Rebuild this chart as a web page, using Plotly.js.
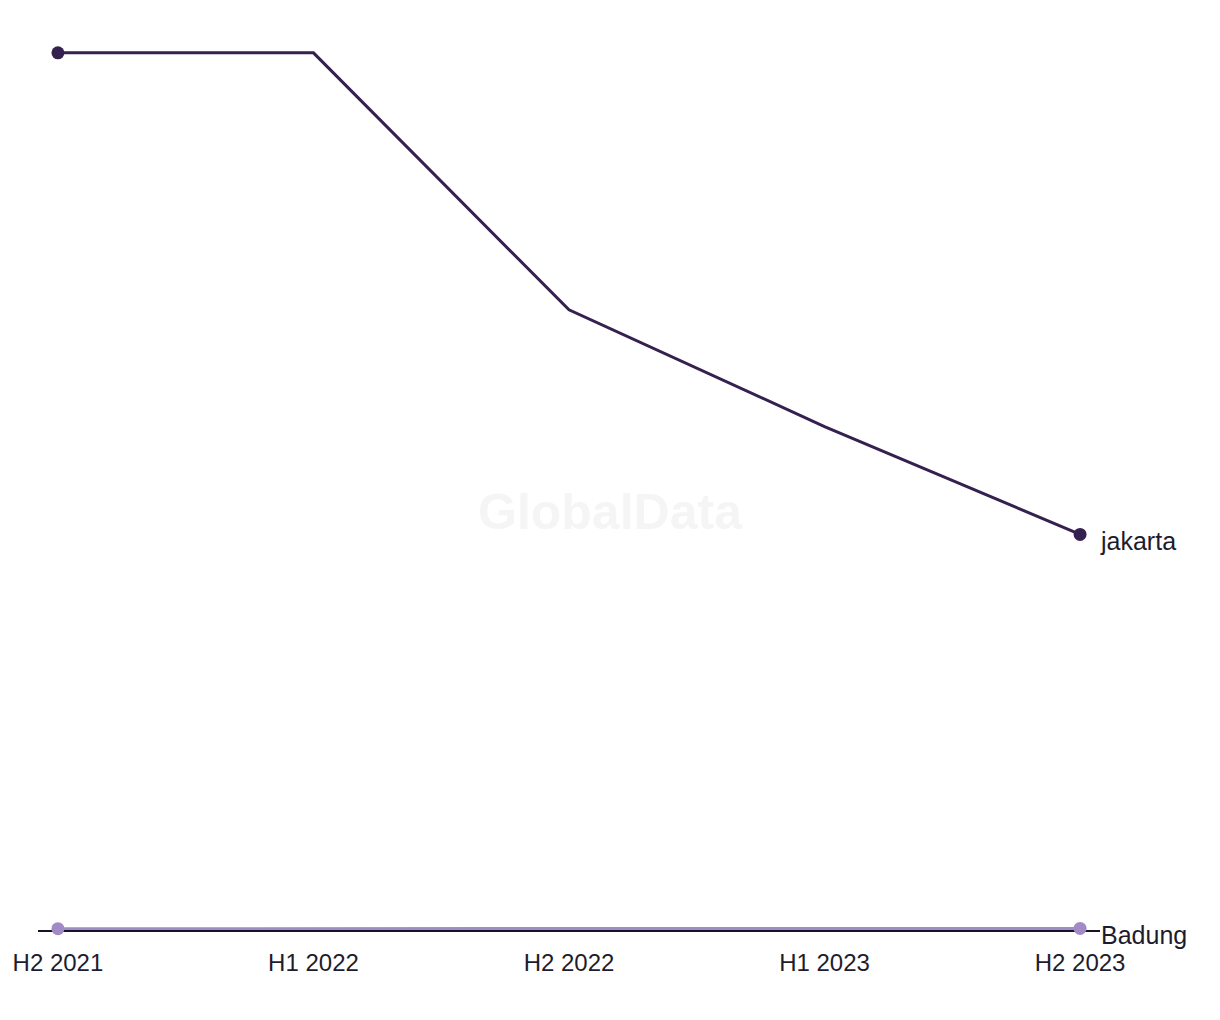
<!DOCTYPE html>
<html>
<head>
<meta charset="utf-8">
<script src="https://cdn.plot.ly/plotly-3.0.1.min.js"></script>
<style>html,body{margin:0;padding:0;background:#fff;}#chart{width:1220px;height:1020px;}</style>
</head>
<body>
<div id="chart"></div>
<script>
const periods = ["H2 2021", "H1 2022", "H2 2022", "H1 2023", "H2 2023"];
const jakarta = [100, 100, 70.7, 57.4, 45.1];
const badung = [0.15, 0.15, 0.18, 0.18, 0.18];
const seriesNames = ["jakarta", "Badung"];

const darkPurple = "#35214f";
const lightPurple = "#a08bc6";
const textColor = "#1e1c2c";
const fontFamily = "'Liberation Sans', Arial, sans-serif";

const traces = [
  {x: periods, y: badung, type: "scatter", mode: "lines", line: {color: lightPurple, width: 3}, cliponaxis: false, showlegend: false},
  {x: [periods[0], periods[periods.length-1]], y: [badung[0], badung[badung.length-1]], type: "scatter", mode: "markers", marker: {color: lightPurple, size: 13}, cliponaxis: false, showlegend: false},
  {x: periods, y: jakarta, type: "scatter", mode: "lines", line: {color: darkPurple, width: 3}, cliponaxis: false, showlegend: false},
  {x: [periods[0], periods[periods.length-1]], y: [jakarta[0], jakarta[jakarta.length-1]], type: "scatter", mode: "markers", marker: {color: darkPurple, size: 13}, cliponaxis: false, showlegend: false}
];

const layout = {
  width: 1220, height: 1020,
  margin: {l: 38, r: 120, t: 9, b: 90},
  paper_bgcolor: "#ffffff", plot_bgcolor: "#ffffff",
  font: {family: fontFamily, color: textColor, size: 24},
  xaxis: {
    type: "category", range: [-0.078, 4.078], layer: "below traces",
    showgrid: false, zeroline: false, showline: true, linecolor: "#161326", linewidth: 2,
    ticks: "outside", ticklen: 10, tickcolor: "rgba(0,0,0,0)",
    tickfont: {size: 24, color: textColor, family: fontFamily}
  },
  yaxis: {
    range: [0, 105], showgrid: false, zeroline: false, showline: false,
    showticklabels: false, ticks: ""
  },
  annotations: [
    {x: periods[4], y: jakarta[4], xref: "x", yref: "y", text: seriesNames[0], showarrow: false, xanchor: "left", yanchor: "middle", xshift: 18, yshift: -7, font: {size: 25, color: textColor}},
    {x: periods[4], y: badung[4], xref: "x", yref: "y", text: seriesNames[1], showarrow: false, xanchor: "left", yanchor: "middle", xshift: 19, yshift: -7, font: {size: 25, color: textColor}},
    {x: 0.5, y: 0.5, xref: "paper", yref: "paper", text: "<b>GlobalData</b>", showarrow: false, font: {size: 50, color: "#f5f5f5", family: fontFamily}, xshift: 41, yshift: -42}
  ]
};

Plotly.newPlot("chart", traces, layout, {displayModeBar: false, staticPlot: true});
</script>
</body>
</html>
